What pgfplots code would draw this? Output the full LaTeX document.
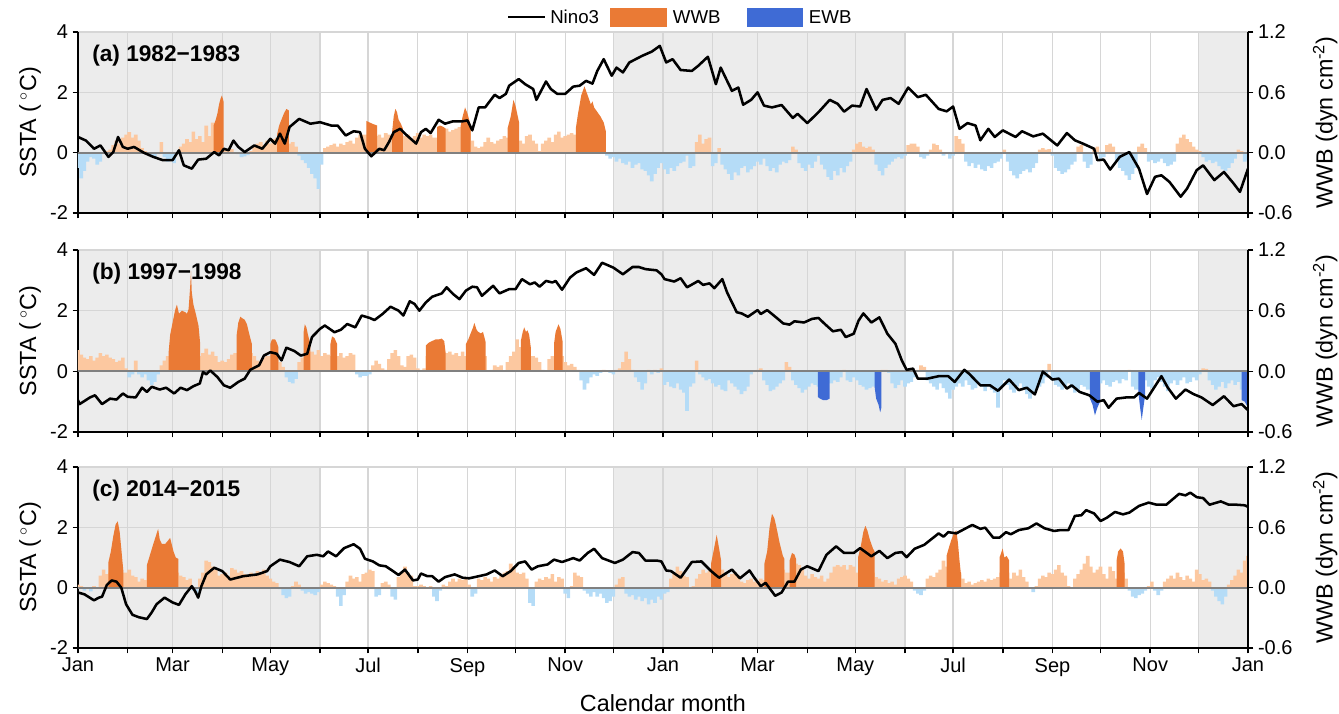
\documentclass[border=0pt]{standalone}
\usepackage{fontspec}
\setmainfont{Liberation Sans}
\usepackage{pgfplots}
\usepackage{pgfplotstable}
\pgfplotsset{compat=1.18}
\definecolor{wwb}{HTML}{EA7A35}
\definecolor{ewb}{HTML}{3F6BD5}
\definecolor{lwwb}{HTML}{FCC8A0}
\definecolor{lewb}{HTML}{B5DCF7}
\definecolor{shadec}{HTML}{ECECEC}
\definecolor{gridc}{HTML}{D6D6D6}
\definecolor{zeroc}{HTML}{808080}

\pgfplotstableread[row sep=\\]{d w\\
0 -0.5\\2 -0.85\\4 -0.6\\6 -0.3\\8 -0.15\\10 -0.2\\12 -0.4\\14 -0.3\\16 -0.05\\18 0.05\\20 0.1\\22 0.25\\24 0.4\\26 0.3\\28 0.5\\30 0.6\\32 0.68\\34 0.5\\36 0.6\\38 0.4\\40 0.15\\42 0.05\\44 0.02\\46 -0.1\\48 -0.15\\50 -0.05\\52 0.35\\54 -0.15\\56 -0.3\\58 -0.2\\60 -0.35\\62 -0.05\\64 0.2\\66 0.3\\68 0.45\\70 0.35\\72 0.7\\74 0.45\\76 0.55\\78 0.35\\80 0.9\\82 0.55\\84 1.0\\86 0.5\\88 0.4\\90 0.15\\92 0.1\\94 0.05\\96 0.12\\98 0.02\\100 -0.05\\102 -0.15\\104 -0.12\\106 -0.08\\108 0.05\\110 0.2\\112 0.3\\114 0.35\\116 0.25\\118 0.4\\120 0.3\\122 0.45\\124 0.5\\126 0.5\\128 0.5\\130 0.5\\132 0.3\\134 0.35\\136 0.2\\138 -0.1\\140 -0.25\\142 -0.35\\144 -0.5\\146 -0.7\\148 -0.85\\150 -1.2\\152 -0.4\\154 0.15\\156 0.2\\158 0.25\\160 0.3\\162 0.2\\164 0.3\\166 0.25\\168 0.35\\170 0.4\\172 0.3\\174 0.5\\176 0.6\\178 0.6\\180 0.6\\182 0.6\\184 0.6\\186 0.55\\188 0.6\\190 0.5\\192 0.65\\194 0.6\\196 0.6\\198 0.6\\200 0.6\\202 0.6\\204 0.55\\206 0.6\\208 0.45\\210 0.55\\212 0.65\\214 0.5\\216 0.6\\218 0.55\\220 0.6\\222 0.5\\224 0.5\\226 0.5\\228 0.5\\230 0.8\\232 0.7\\234 0.75\\236 0.8\\238 0.85\\240 0.8\\242 0.8\\244 0.8\\246 0.4\\248 0.2\\250 0.15\\252 0.2\\254 0.35\\256 0.5\\258 0.35\\260 0.3\\262 0.4\\264 0.45\\266 0.55\\268 0.5\\270 0.5\\272 0.5\\274 0.5\\276 0.4\\278 0.3\\280 0.55\\282 0.6\\284 0.4\\286 0.3\\288 0.05\\290 0.3\\292 0.4\\294 0.5\\296 0.35\\298 0.6\\300 0.7\\302 0.5\\304 0.55\\306 0.6\\308 0.65\\310 0.6\\312 0.6\\314 0.6\\316 0.6\\318 0.6\\320 0.6\\322 0.6\\324 0.6\\326 0.6\\328 0.6\\330 -0.1\\332 -0.2\\334 -0.15\\336 -0.3\\338 -0.2\\340 -0.35\\342 -0.4\\344 -0.3\\346 -0.5\\348 -0.4\\350 -0.35\\352 -0.55\\354 -0.6\\356 -0.75\\358 -0.95\\360 -0.7\\362 -0.5\\
364 -0.35\\366 -0.55\\368 -0.7\\370 -0.5\\372 -0.6\\374 -0.45\\376 -0.35\\378 -0.3\\380 -0.1\\382 -0.5\\384 -0.45\\386 0.35\\388 0.6\\390 0.3\\392 0.45\\394 0.5\\396 -0.45\\398 -0.35\\400 0.15\\402 -0.4\\404 -0.55\\406 -0.7\\408 -0.9\\410 -0.65\\412 -0.75\\414 -0.5\\416 -0.45\\418 -0.65\\420 -0.55\\422 -0.45\\424 -0.3\\426 -0.4\\428 -0.2\\430 -0.45\\432 -0.6\\434 -0.5\\436 -0.65\\438 -0.4\\440 -0.3\\442 -0.35\\444 -0.25\\446 0.2\\448 0.1\\450 -0.35\\452 -0.5\\454 -0.6\\456 -0.4\\458 -0.5\\460 -0.3\\462 -0.1\\464 -0.4\\466 -0.55\\468 -0.8\\470 -0.9\\472 -0.6\\474 -0.75\\476 -0.5\\478 -0.65\\480 -0.45\\482 -0.3\\484 0.1\\486 0.3\\488 0.35\\490 0.2\\492 0.15\\494 0.2\\496 0.1\\498 -0.4\\500 -0.6\\502 -0.75\\504 -0.5\\506 -0.4\\508 -0.3\\510 -0.2\\512 -0.15\\514 -0.2\\516 -0.1\\518 0.25\\520 0.3\\522 0.3\\524 0.2\\526 -0.15\\528 -0.2\\530 -0.1\\532 0.1\\534 0.3\\536 0.25\\538 0.1\\540 -0.1\\542 -0.05\\544 -0.2\\546 -0.1\\548 0.55\\550 0.45\\552 0.3\\554 -0.3\\556 -0.45\\558 -0.35\\560 -0.5\\562 -0.4\\564 -0.55\\566 -0.6\\568 -0.45\\570 -0.5\\572 -0.35\\574 -0.3\\576 -0.2\\578 0.1\\580 -0.3\\582 -0.6\\584 -0.75\\586 -0.85\\588 -0.7\\590 -0.6\\592 -0.55\\594 -0.65\\596 -0.5\\598 -0.35\\600 0.1\\602 0.15\\604 0.1\\606 0.12\\608 -0.1\\610 -0.5\\612 -0.6\\614 -0.7\\616 -0.65\\618 -0.55\\620 -0.4\\622 -0.3\\624 0.2\\626 0.25\\628 -0.3\\630 -0.5\\632 -0.4\\634 0.15\\636 0.2\\638 -0.2\\640 -0.15\\642 0.25\\644 0.3\\646 0.2\\648 -0.3\\650 -0.5\\652 -0.6\\654 -0.75\\656 -0.9\\658 -0.7\\660 -0.5\\662 0.2\\664 0.3\\666 0.15\\668 -0.3\\670 -0.25\\672 -0.35\\674 -0.3\\676 -0.2\\678 -0.35\\680 -0.45\\682 -0.4\\684 -0.3\\686 0.3\\688 0.5\\690 0.6\\692 0.45\\694 0.35\\696 0.2\\698 0.1\\700 0.05\\702 -0.15\\704 -0.3\\706 -0.25\\708 -0.35\\710 -0.3\\712 -0.45\\714 -0.55\\716 -0.6\\718 -0.5\\720 -0.35\\722 -0.2\\724 0.1\\726 0.05\\728 -0.3\\730 -0.25\\
}\la

\pgfplotstableread[row sep=\\]{d w\\
0 0.7\\2 0.55\\4 0.45\\6 0.4\\8 0.5\\10 0.35\\12 0.45\\14 0.6\\16 0.5\\18 0.55\\20 0.45\\22 0.4\\24 0.3\\26 0.35\\28 0.45\\30 0.1\\32 -0.2\\34 -0.1\\36 0.35\\38 -0.1\\40 -0.2\\42 -0.1\\44 -0.3\\46 -0.45\\48 -0.35\\50 -0.1\\52 0.2\\54 0.35\\56 0.5\\58 0.5\\60 0.5\\62 0.5\\64 0.5\\66 0.5\\68 0.5\\70 0.5\\72 0.5\\74 0.5\\76 0.5\\78 0.6\\80 0.75\\82 0.55\\84 0.65\\86 0.5\\88 0.3\\90 0.35\\92 0.3\\94 0.4\\96 0.55\\98 0.6\\100 0.6\\102 0.6\\104 0.6\\106 0.6\\108 0.6\\110 0.5\\112 0.35\\114 0.3\\116 0.45\\118 0.5\\120 0.5\\122 0.5\\124 0.4\\126 0.3\\128 0.15\\130 -0.2\\132 -0.35\\134 -0.4\\136 -0.25\\138 0.3\\140 0.45\\142 0.5\\144 0.5\\146 0.65\\148 0.55\\150 0.7\\152 0.5\\154 0.6\\156 0.55\\158 0.5\\160 0.5\\162 0.5\\164 0.6\\166 0.45\\168 0.5\\170 0.6\\172 0.55\\174 -0.1\\176 -0.2\\178 -0.15\\180 -0.15\\182 -0.1\\184 0.2\\186 0.35\\188 0.25\\190 0.1\\192 0.05\\194 0.4\\196 0.6\\198 0.7\\200 0.5\\202 0.2\\204 0.15\\206 0.5\\208 0.55\\210 0.45\\212 0.1\\214 0.05\\216 0.1\\218 0.5\\220 0.5\\222 0.5\\224 0.5\\226 0.5\\228 0.5\\230 0.6\\232 0.65\\234 0.55\\236 0.6\\238 0.5\\240 0.65\\242 0.5\\244 0.5\\246 0.5\\248 0.5\\250 0.5\\252 0.5\\254 0.5\\256 0.02\\258 0.05\\260 0.2\\262 0.15\\264 0.2\\266 0.02\\268 0.3\\270 0.5\\272 0.65\\274 1.05\\276 0.8\\278 0.5\\280 0.5\\282 0.5\\284 0.5\\286 0.45\\288 0.3\\290 0.05\\292 0.02\\294 0.4\\296 0.5\\298 0.5\\300 0.5\\302 0.5\\304 0.3\\306 0.2\\308 0.25\\310 0.15\\312 0.05\\314 -0.3\\316 -0.6\\318 -0.4\\320 -0.2\\322 -0.1\\324 -0.15\\326 -0.05\\328 0.05\\330 0.02\\332 -0.05\\334 -0.1\\336 0.05\\338 0.1\\340 0.3\\342 0.65\\344 0.4\\346 0.05\\348 -0.2\\350 -0.35\\352 -0.6\\354 -0.4\\356 0.05\\358 -0.1\\360 0.05\\362 -0.05\\364 0.1\\
366 -0.45\\368 -0.35\\370 -0.5\\372 -0.55\\374 -0.4\\376 -0.6\\378 -0.7\\380 -1.3\\382 -0.5\\384 -0.4\\386 0.35\\388 -0.1\\390 -0.2\\392 -0.3\\394 -0.25\\396 -0.4\\398 -0.5\\400 -0.45\\402 -0.6\\404 -0.65\\406 -0.3\\408 -0.4\\410 -0.5\\412 -0.6\\414 -0.75\\416 -0.65\\418 -0.5\\420 -0.1\\422 -0.02\\424 0.05\\426 0.1\\428 -0.3\\430 -0.45\\432 -0.65\\434 -0.6\\436 -0.5\\438 -0.4\\440 -0.3\\442 0.3\\444 0.15\\446 -0.3\\448 -0.45\\450 -0.55\\452 -0.7\\454 -0.6\\456 -0.5\\458 -0.4\\460 -0.45\\462 -0.5\\464 -0.5\\466 -0.5\\468 -0.4\\470 -0.4\\472 -0.3\\474 -0.35\\476 -0.2\\478 0.05\\480 -0.3\\482 -0.35\\484 -0.2\\486 -0.3\\488 -0.45\\490 -0.5\\492 -0.6\\494 -0.55\\496 -0.5\\498 -0.5\\500 -0.5\\502 0.05\\504 0.05\\506 -0.05\\508 -0.4\\510 -0.55\\512 -0.45\\514 -0.3\\516 -0.5\\518 -0.4\\520 -0.35\\522 -0.2\\524 0.05\\526 0.2\\528 0.15\\530 -0.3\\532 -0.4\\534 -0.5\\536 -0.6\\538 -0.4\\540 -0.55\\542 -0.7\\544 -0.9\\546 -0.6\\548 -0.5\\550 -0.4\\552 -0.5\\554 -0.3\\556 -0.45\\558 -0.6\\560 -0.55\\562 -0.4\\564 -0.5\\566 -0.65\\568 -0.5\\570 -0.6\\572 -0.7\\574 -1.2\\576 -0.5\\578 -0.3\\580 -0.45\\582 -0.6\\584 -0.7\\586 -0.5\\588 -0.4\\590 -0.6\\592 -0.75\\594 -0.9\\596 -0.7\\598 -0.6\\600 -0.5\\602 -0.4\\604 -0.2\\606 0.25\\608 -0.3\\610 -0.45\\612 -0.5\\614 -0.6\\616 -0.5\\618 -0.4\\620 -0.55\\622 -0.7\\624 -0.6\\626 -0.45\\628 -0.5\\630 -0.6\\632 -0.6\\634 -0.6\\636 -0.6\\638 -0.4\\640 -0.3\\642 -0.45\\644 -0.5\\646 -0.35\\648 -0.3\\650 -0.4\\652 -0.25\\654 -0.3\\656 0.05\\658 -0.5\\660 -0.6\\662 -0.6\\664 -0.6\\666 -0.3\\668 -0.5\\670 -0.55\\672 -0.3\\674 -0.2\\676 -0.35\\678 -0.5\\680 -0.65\\682 -0.4\\684 -0.3\\686 -0.45\\688 -0.3\\690 -0.2\\692 -0.4\\694 -0.35\\696 -0.2\\698 -0.3\\700 -0.1\\702 0.1\\704 0.08\\706 -0.3\\708 -0.45\\710 -0.6\\712 -0.5\\714 -0.35\\716 -0.55\\718 -0.4\\720 -0.3\\722 -0.45\\724 -0.35\\726 -0.6\\728 -0.6\\730 -0.6\\
}\lb

\pgfplotstableread[row sep=\\]{d w\\
0 0.1\\2 0.05\\4 -0.1\\6 -0.05\\8 -0.12\\10 0.05\\12 0.02\\14 0.4\\16 0.6\\18 0.45\\20 0.5\\22 0.5\\24 0.5\\26 0.5\\28 0.5\\30 0.5\\32 0.6\\34 0.4\\36 0.35\\38 0.2\\40 0.3\\42 0.25\\44 0.5\\46 0.5\\48 0.5\\50 0.5\\52 0.5\\54 0.5\\56 0.5\\58 0.5\\60 0.5\\62 0.5\\64 0.4\\66 0.35\\68 0.25\\70 0.3\\72 -0.1\\74 -0.2\\76 0.3\\78 0.5\\80 0.9\\82 0.85\\84 0.7\\86 0.6\\88 0.4\\90 0.45\\92 0.5\\94 0.4\\96 0.65\\98 0.6\\100 0.5\\102 0.55\\104 0.45\\106 0.35\\108 0.5\\110 0.4\\112 0.55\\114 0.45\\116 0.6\\118 0.4\\120 0.3\\122 0.2\\124 0.15\\126 -0.05\\128 -0.25\\130 -0.35\\132 -0.3\\134 0.05\\136 0.2\\138 0.1\\140 -0.1\\142 -0.2\\144 -0.15\\146 -0.2\\148 -0.25\\150 -0.15\\152 0.1\\154 0.2\\156 0.15\\158 0.1\\160 0.05\\162 -0.3\\164 -0.6\\166 -0.25\\168 0.2\\170 0.4\\172 0.3\\174 0.35\\176 0.2\\178 0.45\\180 0.5\\182 0.6\\184 0.55\\186 -0.3\\188 -0.25\\190 0.15\\192 0.2\\194 0.1\\196 -0.3\\198 -0.4\\200 0.35\\202 0.5\\204 0.7\\206 0.5\\208 0.4\\210 0.05\\212 0.05\\214 0.1\\216 0.05\\218 0.02\\220 0.05\\222 -0.3\\224 -0.45\\226 -0.1\\228 0.1\\230 0.05\\232 0.2\\234 0.3\\236 0.2\\238 0.3\\240 0.25\\242 0.35\\244 0.1\\246 -0.3\\248 -0.2\\250 0.3\\252 0.25\\254 0.35\\256 0.3\\258 0.2\\260 0.35\\262 0.3\\264 0.4\\266 0.5\\268 0.55\\270 0.8\\272 0.7\\274 0.5\\276 0.45\\278 0.5\\280 0.3\\282 -0.5\\284 -0.6\\286 0.2\\288 0.3\\290 0.25\\292 0.35\\294 0.3\\296 0.45\\298 0.2\\300 0.35\\302 0.3\\304 -0.2\\306 -0.35\\308 0.05\\310 0.5\\312 0.4\\314 0.35\\316 -0.1\\318 -0.2\\320 -0.3\\322 -0.15\\324 -0.3\\326 -0.2\\328 -0.35\\330 -0.5\\332 -0.45\\334 -0.3\\336 0.1\\338 0.3\\340 0.35\\342 -0.2\\344 -0.3\\346 -0.25\\348 -0.4\\350 -0.3\\352 -0.45\\354 -0.35\\356 -0.55\\358 -0.4\\360 -0.5\\362 -0.3\\364 -0.4\\
366 -0.2\\368 -0.15\\370 0.3\\372 0.5\\374 0.7\\376 0.55\\378 0.4\\380 0.35\\382 0.02\\384 0.05\\386 0.3\\388 0.45\\390 0.6\\392 0.5\\394 0.55\\396 0.5\\398 0.5\\400 0.5\\402 0.6\\404 0.5\\406 0.35\\408 0.45\\410 0.5\\412 0.4\\414 0.2\\416 0.15\\418 0.25\\420 0.3\\422 0.2\\424 0.15\\426 0.3\\428 0.25\\430 0.5\\432 0.5\\434 0.5\\436 0.5\\438 0.5\\440 0.6\\442 0.5\\444 0.5\\446 0.5\\448 0.8\\450 0.75\\452 0.6\\454 0.4\\456 0.3\\458 0.45\\460 0.35\\462 0.3\\464 0.4\\466 0.2\\468 0.3\\470 0.5\\472 0.7\\474 0.75\\476 0.7\\478 0.75\\480 0.6\\482 0.75\\484 0.7\\486 0.5\\488 0.5\\490 0.5\\492 0.5\\494 0.5\\496 0.5\\498 0.35\\500 0.3\\502 0.2\\504 0.25\\506 0.15\\508 0.2\\510 0.1\\512 0.3\\514 0.35\\516 0.4\\518 0.3\\520 0.2\\522 -0.1\\524 -0.2\\526 -0.25\\528 -0.1\\530 0.3\\532 0.4\\534 0.35\\536 0.5\\538 0.6\\540 0.9\\542 0.7\\544 0.5\\546 0.5\\548 0.5\\550 0.5\\552 0.3\\554 0.15\\556 0.2\\558 0.1\\560 0.15\\562 0.2\\564 0.25\\566 0.2\\568 0.3\\570 0.25\\572 0.3\\574 0.35\\576 0.5\\578 0.5\\580 0.5\\582 0.3\\584 0.5\\586 0.4\\588 0.6\\590 0.35\\592 0.2\\594 0.02\\596 -0.15\\598 0.05\\600 0.3\\602 0.4\\604 0.35\\606 0.5\\608 0.45\\610 0.6\\612 0.75\\614 0.5\\616 0.4\\618 0.05\\620 0.02\\622 0.3\\624 0.45\\626 0.6\\628 0.8\\630 1.05\\632 0.7\\634 0.5\\636 0.6\\638 0.7\\640 0.45\\642 0.3\\644 0.7\\646 0.55\\648 0.3\\650 0.5\\652 0.5\\654 0.3\\656 -0.1\\658 -0.3\\660 -0.35\\662 -0.25\\664 -0.2\\666 -0.1\\668 0.05\\670 0.2\\672 -0.1\\674 -0.25\\676 -0.1\\678 0.2\\680 0.3\\682 0.4\\684 0.3\\686 0.5\\688 0.35\\690 0.25\\692 0.4\\694 0.3\\696 0.2\\698 0.6\\700 0.45\\702 0.25\\704 0.3\\706 0.2\\708 -0.1\\710 -0.3\\712 -0.45\\714 -0.55\\716 -0.3\\718 0.1\\720 0.25\\722 0.4\\724 0.6\\726 0.5\\728 0.9\\730 1.05\\
}\lc

\pgfplotsset{
 panel/.style={
  scale only axis, width=877.5pt, xmin=0, xmax=730, ymin=-2, ymax=4,
  axis x line*=bottom, axis y line*=left,
  xtick={0,31,59,90,120,151,181,212,243,273,304,334,365,396,424,455,485,516,546,577,608,638,669,699,730},
  xticklabels={},
  ytick={-2,0,2,4}, yticklabels={-2,0,2,4},
  xmajorgrids, ymajorgrids, grid style={gridc, line width=1pt},
  tick align=outside, major tick length=4pt,
  axis line style={black, line width=1.1pt},
  tick style={black, line width=1.1pt},
  tick label style={font=\fontsize{15}{15}\selectfont},
  ylabel={SSTA (\,$^{\circ}$C)},
  every axis y label/.style={at={(axis description cs:-0.041,0.5)}, rotate=90, anchor=center, font=\fontsize{17.5}{17.5}\selectfont},
  set layers,
 },
 rpanel/.style={
  scale only axis, width=877.5pt, xmin=0, xmax=730, ymin=-0.6, ymax=1.2,
  axis x line=none, axis y line*=right,
  ytick={-0.6,0,0.6,1.2}, yticklabels={-0.6,0.0,0.6,1.2},
  tick align=outside, major tick length=4pt,
  axis line style={black, line width=1.1pt},
  tick style={black, line width=1.1pt},
  tick label style={font=\fontsize{15}{15}\selectfont},
  ylabel={WWB (dyn cm\textsuperscript{-2})},
  every axis y label/.style={at={(axis description cs:1.066,0.5)}, rotate=90, anchor=center, font=\fontsize{17.5}{17.5}\selectfont},
 },
 lpos/.style={ybar, bar width=2.25, bar shift=0pt, fill=lwwb, draw=none},
 lneg/.style={ybar, bar width=2.25, bar shift=0pt, fill=lewb, draw=none},
 dw/.style={fill=wwb, draw=none},
 de/.style={fill=ewb, draw=none},
 nino/.style={black, line width=1.9pt, line join=round},
}
\newcommand{\shadeit}{%
 \begin{pgfonlayer}{axis background}
 \fill[shadec] (axis cs:0,-2) rectangle (axis cs:151,4);
 \fill[shadec] (axis cs:334,-2) rectangle (axis cs:516,4);
 \fill[shadec] (axis cs:699,-2) rectangle (axis cs:730,4);
 \end{pgfonlayer}}
\newcommand{\zeroline}{\draw[zeroc, line width=1.4pt] (axis cs:0,0) -- (axis cs:730,0);}
\newcommand{\ttl}[1]{\node[anchor=north west, font=\bfseries\fontsize{17}{17}\selectfont, inner sep=0pt] at (rel axis cs:0.012,0.93) {#1};}

\begin{document}
\begin{tikzpicture}[x=1pt,y=1pt]
% ---------------- panel a
\begin{axis}[panel, height=135.75pt, at={(0pt,0pt)}, anchor=south west]
\shadeit
\addplot[lpos] table[x=d, y expr={max(\thisrow{w},0)}] {\la};
\addplot[lneg] table[x=d, y expr={min(\thisrow{w},0)}] {\la};
\addplot[dw] coordinates {(84.6,0.9)(86,1.1)(87,1.3)(88,1.6)(89,1.8)(89.8,1.9)(90.8,1.7)} \closedcycle;
\addplot[dw] coordinates {(124.2,0.6)(125.5,0.9)(127,1.1)(128.5,1.3)(130,1.45)(131.5,1.4)} \closedcycle;
\addplot[dw] coordinates {(180,1.05)(182,1.0)(184,0.95)(186.7,0.9)} \closedcycle;
\addplot[dw] coordinates {(196,0.7)(197,1.2)(198,1.45)(199,1.35)(200,1.1)(201.5,0.95)(202.7,0.8)} \closedcycle;
\addplot[dw] coordinates {(224,0.85)(226,0.9)(228,0.85)(229.4,0.8)} \closedcycle;
\addplot[dw] coordinates {(238.8,0.9)(240,1.2)(241.5,1.5)(243,1.3)(245,0.9)} \closedcycle;
\addplot[dw] coordinates {(268,0.8)(270,1.2)(271.7,1.75)(273,1.55)(275.2,1.0)} \closedcycle;
\addplot[dw] coordinates {(310.6,0.8)(312,1.3)(314,1.9)(316,2.2)(318,1.9)(320,1.6)(321,1.7)(322,1.5)(324,1.35)(326,1.2)(328,1.0)(329.4,0.7)} \closedcycle;
\zeroline
\addplot[nino] coordinates {(0,0.52)(5,0.4)(10,0.13)(14,0.24)(19,-0.14)(22,0.02)(25,0.52)(28,0.19)(31,0.13)(35,0.19)(41,0)(47,-0.14)(53,-0.25)(59,-0.25)(63,0.08)(66,-0.42)(71,-0.53)(75,-0.23)(80,-0.2)(85,0.02)(88,-0.09)(91,0.13)(94,0.08)(97,0.4)(100,0.19)(104,0.02)(110,0.24)(115,0.13)(120,0.46)(123,0.3)(126,0.63)(129,0.3)(132,0.85)(138,1.12)(145,0.96)(151,1.01)(158,0.9)(162,0.9)(167,0.57)(172,0.71)(176,0.68)(179,0.13)(183,-0.12)(188,0.13)(191,0.08)(194,0.35)(197,0.68)(201,0.79)(204,0.63)(211,0.3)(214,0.68)(217,0.79)(220,0.65)(225,1.09)(229,0.96)(234,1.04)(240,1.04)(243,1.07)(246,0.74)(250,1.5)(254,1.5)(260,1.92)(263,1.81)(267,1.95)(269,2.22)(275,2.44)(279,2.27)(284,2.11)(286,1.75)(292,2.36)(295,2.11)(299,1.95)(304,1.95)(309,2.19)(313,2.22)(317,2.38)(321,2.29)(324,2.71)(328,3.1)(333,2.55)(336,2.82)(340,2.66)(344,2.99)(348,3.1)(352,3.21)(358,3.35)(363,3.54)(367,2.99)(371,3.1)(376,2.74)(383,2.71)(387,2.88)(393,3.18)(398,2.27)(401,2.82)(408,2.05)(412,2.16)(415,1.59)(420,1.75)(424,2.0)(428,1.56)(433,1.5)(439,1.58)(446,1.15)(449,1.29)(455,0.98)(462,1.34)(469,1.75)(474,1.62)(478,1.36)(483,1.56)(488,1.53)(492,2.11)(498,1.42)(502,1.75)(507,1.81)(512,1.62)(518,2.16)(524,1.84)(529,1.92)(537,1.45)(542,1.37)(546,1.53)(550,0.79)(555,0.98)(560,0.9)(563,0.41)(568,0.79)(572,0.52)(577,0.74)(585,0.52)(589,0.71)(596,0.54)(602,0.63)(611,0.24)(617,0.65)(622,0.41)(627,0.3)(634,0.13)(636,-0.25)(640,-0.23)(644,-0.56)(650,-0.14)(656,0.02)(662,-0.53)(667,-1.37)(672,-0.8)(676,-0.75)(681,-0.97)(688,-1.46)(692,-1.19)(698,-0.58)(702,-0.42)(709,-0.91)(715,-0.64)(721,-1.02)(725,-1.3)(730,-0.53)};
\ttl{(a) 1982−1983}
\end{axis}
\begin{axis}[rpanel, height=135.75pt, at={(0pt,0pt)}, anchor=south west]
\end{axis}
% ---------------- panel b
\begin{axis}[panel, height=136.5pt, at={(0pt,-164.25pt)}, anchor=south west]
\shadeit
\addplot[lpos] table[x=d, y expr={max(\thisrow{w},0)}] {\lb};
\addplot[lneg] table[x=d, y expr={min(\thisrow{w},0)}] {\lb};
\addplot[dw] coordinates {(56.5,0.6)(57.5,1.2)(59,1.6)(60.5,2.0)(61.7,2.2)(63,1.9)(64.8,2.0)(66.9,1.95)(68,1.9)(69,2.05)(70,2.8)(70.5,3.3)(71,2.6)(72,2.2)(73.5,1.9)(75.2,1.5)(76.25,0.9)} \closedcycle;
\addplot[dw] coordinates {(99,1.2)(100,1.6)(101.25,1.8)(102.5,1.75)(104,1.7)(105.4,1.55)(107,1.2)(108.5,0.9)} \closedcycle;
\addplot[dw] coordinates {(120,0.9)(121,1.05)(123,1.05)(124,0.95)(125,0.8)} \closedcycle;
\addplot[dw] coordinates {(140.8,1.3)(141.5,1.55)(142.5,1.45)(143.5,1.2)(145,0.9)} \closedcycle;
\addplot[dw] coordinates {(157.5,0.9)(158.5,1.15)(160,1.1)(161.7,0.9)} \closedcycle;
\addplot[dw] coordinates {(217,0.85)(219,0.95)(221,1.0)(223,1.05)(225,1.05)(227,1.08)(228.5,1.0)(229.4,0.6)} \closedcycle;
\addplot[dw] coordinates {(242,0.9)(243.5,1.05)(245,1.25)(246.5,1.45)(247.3,1.6)(248.5,1.4)(249.3,1.32)(251.3,1.25)(252.7,1.3)(254.4,0.95)} \closedcycle;
\addplot[dw] coordinates {(276.3,1.0)(277.5,1.3)(278.4,1.45)(279.5,1.3)(280.5,1.35)(281.5,1.2)(282.5,0.8)} \closedcycle;
\addplot[dw] coordinates {(297,0.9)(298,1.3)(299.8,1.55)(301,1.4)(302.3,1.0)} \closedcycle;
\addplot[de] coordinates {(461.7,-0.85)(463,-0.9)(465,-0.95)(467,-0.95)(469,-0.9)} \closedcycle;
\addplot[de] coordinates {(497,-0.5)(498,-0.9)(499.5,-1.1)(500.5,-1.35)(501.25,-1.2)} \closedcycle;
\addplot[de] coordinates {(631.4,-0.9)(633,-1.1)(634.5,-1.45)(636,-1.2)(637.7,-1.0)} \closedcycle;
\addplot[de] coordinates {(661.6,-0.7)(662.7,-1.2)(663.7,-1.6)(664.7,-1.2)(665.8,-0.8)} \closedcycle;
\addplot[de] coordinates {(726,-0.95)(728,-1.0)(730,-1.2)} \closedcycle;
\zeroline
\addplot[nino] coordinates {(0,-0.95)(1,-1.08)(7.5,-0.86)(10.6,-0.79)(15,-1.08)(20,-0.9)(24,-0.93)(28,-0.73)(31,-0.84)(36,-0.86)(40,-0.54)(43,-0.68)(46,-0.51)(51,-0.6)(55,-0.54)(60,-0.73)(64,-0.54)(68,-0.62)(72,-0.49)(76,-0.4)(78,-0.02)(80,-0.1)(82.5,0.03)(87,-0.19)(91,-0.46)(95,-0.54)(100,-0.35)(104,-0.24)(107.5,0.05)(113,0.2)(116,0.52)(120,0.63)(124,0.58)(127,0.36)(130,0.78)(135,0.67)(139,0.52)(143,0.58)(146,1.13)(151,1.4)(154,1.51)(160,1.29)(164,1.37)(168,1.56)(173,1.45)(177,1.84)(182,1.76)(185,1.69)(190,1.89)(195,2.13)(200,2.0)(203,1.84)(207,2.31)(210,2.22)(213,2.0)(217,2.27)(221,2.46)(227,2.57)(230,2.77)(234,2.55)(238,2.38)(242,2.66)(246,2.79)(249,2.77)(252,2.49)(259,2.82)(263,2.57)(269,2.71)(273,2.71)(277,3.04)(282,2.87)(285,2.93)(288,2.79)(292,2.98)(296,2.93)(298,2.98)(302,2.69)(307,3.09)(311,3.26)(317,3.4)(322,3.18)(327,3.58)(334,3.42)(340,3.2)(346,3.44)(350,3.44)(354,3.37)(361,3.33)(364,3.2)(366,3.04)(372,2.96)(376,3.07)(380,2.77)(387,2.98)(390,2.85)(394,2.9)(397,2.74)(402,3.04)(405,2.6)(411,1.95)(414,1.91)(418,1.8)(424,2.02)(426,1.89)(430,2.02)(436,1.76)(440,1.58)(444,1.54)(447,1.65)(453,1.61)(458,1.73)(462,1.76)(466,1.56)(471,1.32)(476,1.37)(479,1.13)(484,1.24)(487,1.67)(490,1.91)(495,1.61)(500,1.78)(505,1.24)(510,0.91)(514,0.36)(517,0.05)(521,0.09)(524,-0.24)(530,-0.24)(537,-0.16)(543,-0.16)(547,-0.35)(551,-0.08)(553,0.05)(556,-0.08)(563,-0.46)(569,-0.46)(574,-0.64)(581,-0.27)(587,-0.62)(592,-0.54)(597,-0.76)(602,-0.01)(608,-0.27)(612,-0.24)(617,-0.57)(620,-0.46)(625,-0.68)(631,-0.79)(636,-1.0)(640,-0.95)(643,-1.2)(648,-0.9)(654,-0.86)(659,-0.86)(662,-0.71)(667,-0.9)(672,-0.49)(676,-0.16)(680,-0.54)(685,-0.9)(691,-0.6)(696,-0.75)(701,-0.86)(708,-1.11)(715,-0.82)(721,-1.15)(726,-1.08)(730,-1.28)};
\ttl{(b) 1997−1998}
\end{axis}
\begin{axis}[rpanel, height=136.5pt, at={(0pt,-164.25pt)}, anchor=south west]
\end{axis}
% ---------------- panel c
\begin{axis}[panel, height=135.75pt, at={(0pt,-326.25pt)}, anchor=south west,
  xticklabels={Jan,,Mar,,May,,Jul,,Sep,,Nov,,Jan,,Mar,,May,,Jul,,Sep,,Nov,,Jan},
  xlabel={Calendar month},
  every axis x label/.style={at={(axis description cs:0.5,-0.304)}, anchor=center, font=\fontsize{17.5}{17.5}\selectfont}]
\shadeit
\addplot[lpos] table[x=d, y expr={max(\thisrow{w},0)}] {\lc};
\addplot[lneg] table[x=d, y expr={min(\thisrow{w},0)}] {\lc};
\addplot[dw] coordinates {(19,0.85)(20.5,1.2)(22,1.7)(23.5,2.1)(24.8,2.2)(26,1.85)(27,1.3)(28.3,0.55)} \closedcycle;
\addplot[dw] coordinates {(43,0.75)(45,1.1)(47,1.45)(48.5,1.7)(50,1.95)(51,1.6)(52.3,1.45)(54.4,1.45)(56,1.55)(57.5,1.65)(59.6,1.2)(61,1.0)(62.7,0.95)} \closedcycle;
\addplot[dw] coordinates {(395,0.8)(396.5,1.2)(398.5,1.75)(400,1.3)(401.25,0.9)} \closedcycle;
\addplot[dw] coordinates {(428.3,0.8)(430,1.2)(431.5,2.0)(433,2.45)(434.5,2.3)(435.6,2.05)(437.7,1.5)(439.8,1.05)(440.8,0.95)} \closedcycle;
\addplot[dw] coordinates {(444,0.9)(445.5,1.15)(447,1.1)(448,0.95)} \closedcycle;
\addplot[dw] coordinates {(486.7,1.0)(488.5,1.4)(490,1.85)(491.25,2.05)(492.5,1.9)(494,1.6)(496,1.3)(497,1.2)} \closedcycle;
\addplot[dw] coordinates {(541.9,1.05)(543.5,1.35)(545,1.6)(546.5,1.8)(548,1.9)(549,1.5)(550,0.9)(551,0.4)} \closedcycle;
\addplot[dw] coordinates {(575,1.0)(576.9,1.3)(578,1.0)(579.4,1.05)(581,0.9)} \closedcycle;
\addplot[dw] coordinates {(648,0.9)(649,1.2)(650.5,1.3)(652,1.2)(653,0.8)} \closedcycle;
\zeroline
\addplot[nino] coordinates {(0,-0.16)(4,-0.22)(10,-0.42)(13,-0.33)(15,-0.3)(18,0.09)(21,0.24)(24,0.2)(27,0)(30,-0.55)(34,-0.9)(38,-0.98)(43,-1.04)(46,-0.82)(49,-0.55)(54,-0.33)(59,-0.49)(63,-0.57)(67,-0.22)(71,0.05)(73,-0.11)(75,-0.33)(77,0.05)(80,0.44)(85,0.66)(90,0.55)(95,0.27)(103,0.38)(112,0.44)(118,0.55)(120,0.71)(126,0.93)(132,0.85)(138,0.71)(143,1.04)(149,1.09)(153,1.04)(156,1.2)(161,1.04)(166,1.31)(172,1.44)(176,1.29)(179,0.96)(184,0.87)(188,0.74)(192,0.71)(196,0.57)(200,0.42)(204,0.6)(209,0.24)(212,0.27)(214,0.47)(218,0.38)(221,0.38)(225,0.2)(229,0.35)(235,0.44)(240,0.33)(244,0.31)(250,0.38)(255,0.44)(260,0.57)(265,0.38)(270,0.55)(275,0.82)(279,0.87)(283,0.6)(287,0.71)(293,0.77)(297,0.93)(302,0.85)(309,0.98)(313,0.9)(318,1.15)(322,1.29)(327,0.98)(335,0.82)(340,0.93)(346,1.18)(350,1.15)(354,0.9)(361,0.9)(364,0.87)(367,0.57)(370,0.55)(376,0.33)(383,0.85)(389,0.87)(395,0.55)(400,0.33)(408,0.6)(413,0.31)(416,0.44)(419,0.57)(422,0.33)(426,0.05)(429,0.16)(435,-0.27)(439,-0.16)(443,0.2)(447,0.2)(451,0.6)(455,0.71)(462,0.55)(467,1.09)(473,1.37)(478,1.15)(484,1.15)(488,1.31)(495,1.04)(500,1.22)(505,0.98)(510,1.15)(514,1.18)(517,1.01)(522,1.29)(528,1.42)(537,1.8)(540,1.69)(543,1.84)(548,1.8)(554,1.97)(558,2.08)(563,1.95)(566,1.99)(571,1.66)(575,1.66)(579,1.84)(582,1.77)(587,1.91)(593,1.97)(598,2.13)(603,1.97)(609,1.88)(613,1.91)(618,1.91)(622,2.38)(626,2.4)(629,2.57)(634,2.46)(638,2.21)(642,2.32)(647,2.51)(652,2.43)(656,2.49)(662,2.71)(668,2.82)(673,2.75)(679,2.75)(687,3.11)(691,3.06)(694,3.15)(698,3.0)(702,2.97)(706,2.75)(713,2.86)(718,2.75)(723,2.75)(728,2.73)(730,2.68)};
\ttl{(c) 2014−2015}
\end{axis}
\begin{axis}[rpanel, height=135.75pt, at={(0pt,-326.25pt)}, anchor=south west]
\end{axis}
% ---------------- legend
\begin{scope}[font=\fontsize{14}{14}\selectfont]
\draw[black, line width=2.2pt] (322.5pt,147pt) -- (350.25pt,147pt);
\node[anchor=west, inner sep=0pt] at (354pt,147pt) {Nino3};
\fill[wwb] (399pt,139.5pt) rectangle (441.75pt,153.75pt);
\node[anchor=west, inner sep=0pt] at (446pt,147pt) {WWB};
\fill[ewb] (501.75pt,139.5pt) rectangle (543.75pt,153.75pt);
\node[anchor=west, inner sep=0pt] at (548pt,147pt) {EWB};
\end{scope}
\pgfresetboundingbox
\useasboundingbox (-58.5pt,-375.75pt) rectangle (945.75pt,159.75pt);
\end{tikzpicture}
\end{document}
